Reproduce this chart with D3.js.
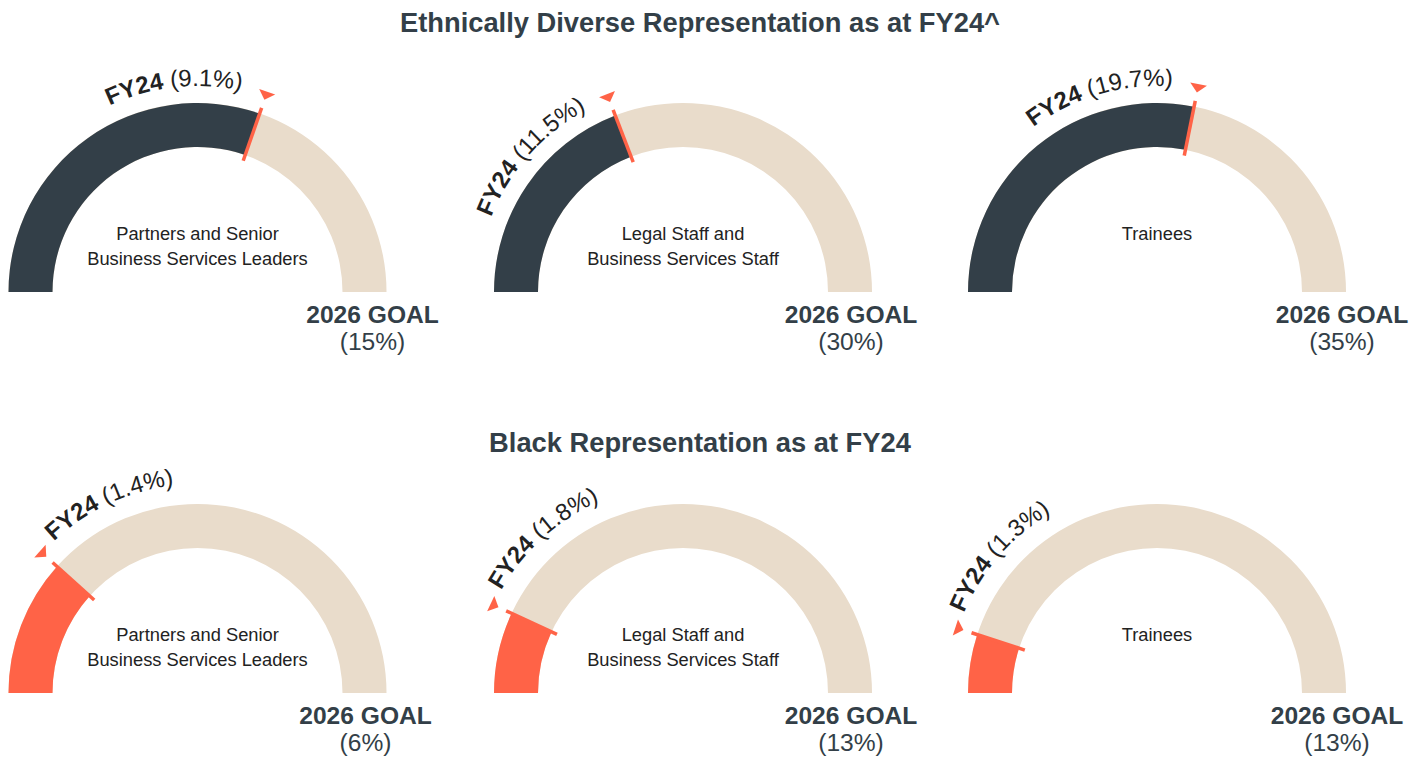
<!DOCTYPE html>
<html>
<head>
<meta charset="utf-8">
<script src="https://cdn.jsdelivr.net/npm/d3@7"></script>
<style>
  body { margin: 0; background: #fff; }
  text { font-family: "Liberation Sans", Arial, sans-serif; }
</style>
</head>
<body>
<div id="chart"></div>
<script>
// data
var groupTitles = ["Ethnically Diverse Representation as at FY24^", "Black Representation as at FY24"];
var categories = [
    ["Partners and Senior", "Business Services Leaders"],
    ["Legal Staff and", "Business Services Staff"],
    ["Trainees"]
];
var fy24Values = [[9.1, 11.5, 19.7], [1.4, 1.8, 1.3]];
var goalValues = [[15, 30, 35], [6, 13, 13]];
var currentLabel = "FY24";
var goalLabel = "2026 GOAL";

// layout
var width = 1424, height = 760;
var colX = [197.5, 683, 1157];
var rowY = [292, 693];
var titleY = [32, 452];
var goalDx = [[175, 168, 185], [168, 168, 180]];
var rowColor = ["#333F48", "#FF6347"];
var rInner = 145, rOuter = 189;
var rText = [206, 209];

var svg = d3.select("#chart").append("svg")
    .attr("width", width)
    .attr("height", height);

var arc = d3.arc()
    .innerRadius(rInner)
    .outerRadius(rOuter);

groupTitles.forEach(function(title, row) {
    svg.append("text")
        .attr("x", 700)
        .attr("y", titleY[row])
        .attr("text-anchor", "middle")
        .attr("font-size", 27.3)
        .attr("font-weight", "bold")
        .attr("fill", "#333F48")
        .text(title);

    categories.forEach(function(lines, col) {
        var value = fy24Values[row][col],
            goal = goalValues[row][col];

        var angle = d3.scaleLinear()
            .domain([0, goal])
            .range([-Math.PI / 2, Math.PI / 2]);

        var g = svg.append("g")
            .attr("transform", "translate(" + colX[col] + "," + rowY[row] + ")");

        // background track up to the goal
        g.append("path")
            .attr("d", arc({startAngle: angle(0), endAngle: angle(goal)}))
            .attr("fill", "#E9DCCB");

        // FY24 value
        g.append("path")
            .attr("d", arc({startAngle: angle(0), endAngle: angle(value)}))
            .attr("fill", rowColor[row]);

        var a = angle(value);
        var deg = a * 180 / Math.PI;

        // marker tick across the band
        g.append("line")
            .attr("x1", Math.sin(a) * (rInner - 6))
            .attr("y1", -Math.cos(a) * (rInner - 6))
            .attr("x2", Math.sin(a) * (rOuter + 6))
            .attr("y2", -Math.cos(a) * (rOuter + 6))
            .attr("stroke", "#FF6347")
            .attr("stroke-width", 3.5);

        // small pointer outside the band
        g.append("path")
            .attr("d", "M0," + (-(rOuter + 14.5)) + "L-8.5," + (-(rOuter + 23)) + "L8.5," + (-(rOuter + 23)) + "Z")
            .attr("transform", "rotate(" + deg + ")")
            .attr("fill", "#FF6347");

        // curved FY24 label
        var r = rText[row];
        var pathId = "lbl-" + row + "-" + col;
        g.append("path")
            .attr("id", pathId)
            .attr("d", "M" + (-r) + ",0A" + r + "," + r + " 0 0 1 " + r + ",0")
            .attr("fill", "none");

        var frac = (a + Math.PI / 2) / Math.PI;
        var before = frac > 1 / 3;
        var offAngle = before ? frac - 7 / 180 : frac + 4.5 / 180;

        var tp = g.append("text")
            .attr("font-size", 24)
            .attr("fill", "#222")
            .append("textPath")
            .attr("href", "#" + pathId)
            .attr("startOffset", offAngle * Math.PI * r)
            .attr("text-anchor", before ? "end" : "start");
        tp.append("tspan").attr("font-weight", "bold").text(currentLabel);
        tp.append("tspan").text(" (" + value + "%)");

        // category in the middle
        g.selectAll(".cat")
            .data(lines)
            .enter().append("text")
            .attr("class", "cat")
            .attr("x", 0)
            .attr("y", function(d, i) { return -52 + i * 25; })
            .attr("text-anchor", "middle")
            .attr("font-size", 18.3)
            .attr("fill", "#222")
            .text(function(d) { return d; });

        // goal label
        g.append("text")
            .attr("x", goalDx[row][col])
            .attr("y", 31)
            .attr("text-anchor", "middle")
            .attr("font-size", 24.6)
            .attr("font-weight", "bold")
            .attr("fill", "#333F48")
            .text(goalLabel);

        g.append("text")
            .attr("x", goalDx[row][col])
            .attr("y", 58)
            .attr("text-anchor", "middle")
            .attr("font-size", 24.6)
            .attr("fill", "#333F48")
            .text("(" + goal + "%)");
    });
});
</script>
</body>
</html>
